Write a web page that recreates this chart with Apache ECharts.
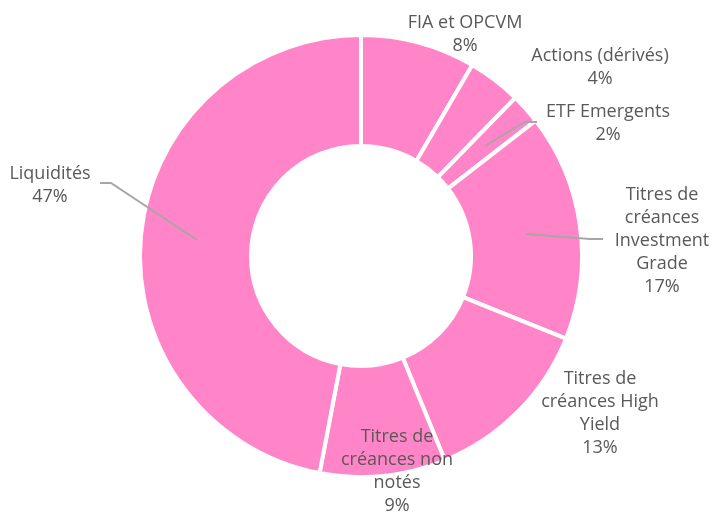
<!DOCTYPE html>
<html>
<head>
<meta charset="utf-8">
<script src="https://cdn.jsdelivr.net/npm/echarts@6/dist/echarts.min.js"></script>
<style>
  html, body { margin: 0; padding: 0; background: #fff; }
  #chart { width: 712px; height: 513px; }
</style>
</head>
<body>
<div id="chart"></div>
<script>
// categories and values (percent)
var categories = ['FIA et OPCVM', 'Actions (dérivés)', 'ETF Emergents',
    'Titres de créances Investment Grade', 'Titres de créances High Yield',
    'Titres de créances non notés', 'Liquidités'];
var labelText = ['FIA et OPCVM', 'Actions (dérivés)', 'ETF Emergents',
    'Titres de\ncréances\nInvestment\nGrade', 'Titres de\ncréances High\nYield',
    'Titres de\ncréances non\nnotés', 'Liquidités'];
var values = [8.4, 3.9, 2.2, 16.6, 12.7, 9.2, 47.0];

// label placement (layout only)
var labelPos = [
    [465, 34], [600, 67], [608, 123], [662, 241], [600, 413], [397, 471], [50, 185]
];
var linePts = {
    2: [[485, 146], [525, 122], [537, 122]],
    3: [[526, 234], [590, 239], [603, 239]],
    6: [[197, 240], [111, 183], [100, 183]]
};

var ringData = [];
var labelData = [];
for (var i = 0; i < categories.length; i++) {
    ringData.push({ name: categories[i], value: values[i] });
    labelData.push({
        name: categories[i],
        value: values[i],
        labelLine: { show: !!linePts[i] }
    });
}

var myChart = echarts.init(document.getElementById('chart'));
var option = {
    animation: false,
    series: [{
        // the ring itself
        type: 'pie',
        z: 2,
        center: [361, 256],
        radius: [110, 221],
        startAngle: 90,
        clockwise: true,
        itemStyle: {
            color: '#FF85C8',
            borderColor: '#ffffff',
            borderWidth: 4
        },
        label: { show: false },
        labelLine: { show: false },
        emphasis: { disabled: true },
        data: ringData
    }, {
        // transparent copy on top, carries labels and leader lines
        type: 'pie',
        z: 5,
        center: [361, 256],
        radius: [110, 221],
        startAngle: 90,
        clockwise: true,
        silent: true,
        avoidLabelOverlap: false,
        itemStyle: { color: 'rgba(0,0,0,0)', borderWidth: 0 },
        label: {
            show: true,
            position: 'outside',
            color: '#595959',
            fontFamily: 'Open Sans',
            fontSize: 18,
            lineHeight: 23,
            align: 'center',
            formatter: function (p) {
                return labelText[p.dataIndex] + '\n' + Math.round(p.percent) + '%';
            }
        },
        labelLine: {
            lineStyle: { color: '#A6A6A6', width: 2 }
        },
        labelLayout: function (p) {
            var pos = labelPos[p.dataIndex];
            var res = {
                x: pos[0],
                y: pos[1],
                align: 'center',
                verticalAlign: 'middle'
            };
            if (linePts[p.dataIndex]) res.labelLinePoints = linePts[p.dataIndex];
            return res;
        },
        emphasis: { disabled: true },
        data: labelData
    }]
};
myChart.setOption(option);
</script>
</body>
</html>
